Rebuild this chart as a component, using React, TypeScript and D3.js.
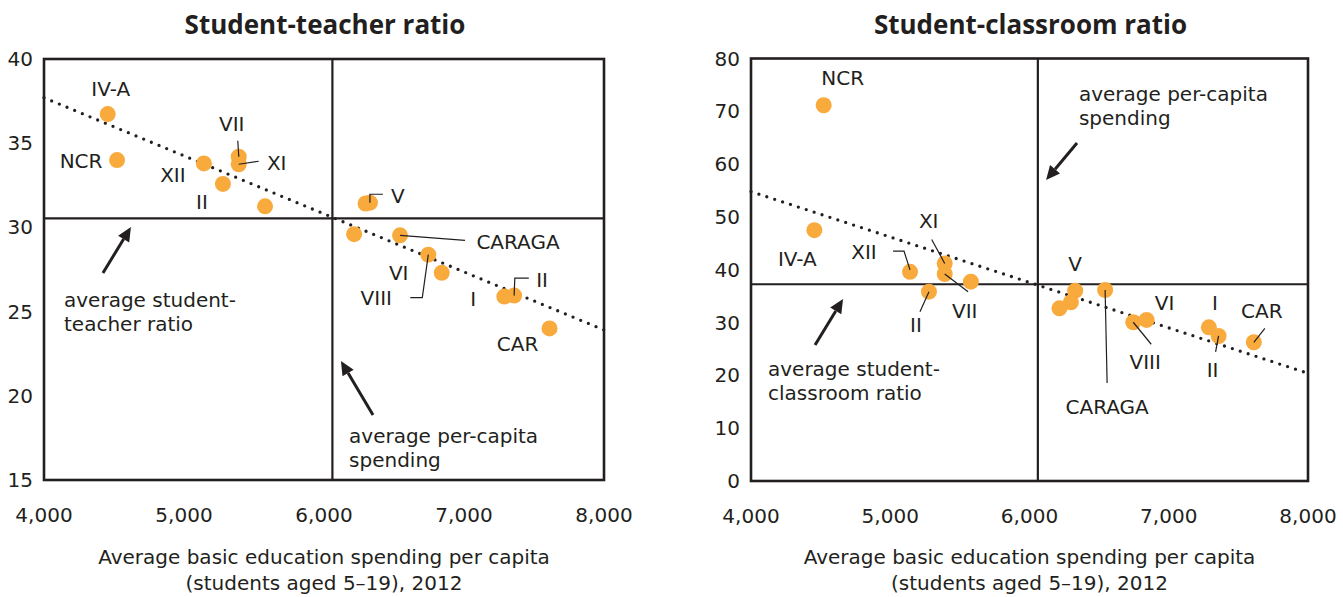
import React from "react";
import * as d3 from "d3";

// ---------- DATA ----------
const REGIONS = ["IV-A", "NCR", "XII", "VII", "XI", "II", "", "V", "", "", "CARAGA", "VIII", "VI", "I", "II", "CAR"];
const SPENDING = [4455, 4522, 5142, 5391, 5391, 5278, 5579, 6328, 6297, 6215, 6543, 6745, 6841, 7288, 7358, 7611];
const TEACHER_RATIO = [36.73, 34.0, 33.8, 34.2, 33.75, 32.58, 31.25, 31.47, 31.42, 29.6, 29.53, 28.38, 27.3, 25.89, 25.95, 24.0];
const CLASSROOM_RATIO = [47.5, 71.15, 39.6, 39.2, 41.2, 35.85, 37.75, 36.04, 33.85, 32.7, 36.17, 30.06, 30.5, 29.1, 27.46, 26.27];

const X_TICKS = [4000, 5000, 6000, 7000, 8000];
const Y_TICKS_TEACHER = [15, 20, 25, 30, 35, 40];
const Y_TICKS_CLASSROOM = [0, 10, 20, 30, 40, 50, 60, 70, 80];

const AVG_SPENDING = 6060;
const AVG_TEACHER = 30.54;
const AVG_CLASSROOM = 37.25;

const TREND_X = [4000, 8000];
const TREND_TEACHER = [37.7, 23.91];
const TREND_CLASSROOM = [54.8, 20.4];

const TITLES = ["Student-teacher ratio", "Student-classroom ratio"];
const X_TITLE = ["Average basic education spending per capita", "(students aged 5\u201319), 2012"];

// ---------- LAYOUT / STYLE ----------
const W = 1343;
const H = 597;
const INK = "#231f20";
const ORANGE = "#F9AA3C";
const FONT = "'DejaVu Sans', sans-serif";
const TITLE_FONT = "'Open Sans', sans-serif";
const FS = 20;

type LabelLayout = { dx: number; dy: number; leader?: [number, number][] };

const LEFT_LABELS: Record<number, LabelLayout> = {
  0: { dx: 3, dy: -25 },
  1: { dx: -36, dy: 1 },
  2: { dx: -31, dy: 12 },
  3: { dx: -7, dy: -33, leader: [[-1, -16], [0, 0]] },
  4: { dx: 38, dy: -1, leader: [[20, -3], [0, 0]] },
  5: { dx: -21, dy: 18 },
  7: { dx: 28, dy: -7, leader: [[13, -8.4], [0, -8.4], [0, 0]] },
  10: { dx: 118, dy: 7, leader: [[0, 0], [65, 5]] },
  11: { dx: -52, dy: 43, leader: [[0, 0], [-6, 43], [-18, 43]] },
  12: { dx: -43, dy: 0.6 },
  13: { dx: -31, dy: 2 },
  14: { dx: 28, dy: -16, leader: [[0, 0], [0.7, -17.4], [14.7, -17.4]] },
  15: { dx: -32, dy: 16 },
};

const RIGHT_LABELS: Record<number, LabelLayout> = {
  0: { dx: -17, dy: 29 },
  1: { dx: 19, dy: -27 },
  2: { dx: -46, dy: -20, leader: [[-17, -20.7], [-6, -20.7], [0, -2]] },
  3: { dx: 20, dy: 37, leader: [[0, 0], [23.4, 17.7]] },
  4: { dx: -16, dy: -42, leader: [[-13, -24], [0, 0]] },
  5: { dx: -13, dy: 33, leader: [[0, 0], [-9, 20]] },
  7: { dx: 0, dy: -27 },
  10: { dx: 2, dy: 117, leader: [[0, 0], [2, 93]] },
  11: { dx: 12, dy: 40, leader: [[0, 0], [18, 22]] },
  12: { dx: 18, dy: -17 },
  13: { dx: 6, dy: -24 },
  14: { dx: -6, dy: 34, leader: [[0, 0], [-3, 16]] },
  15: { dx: 8, dy: -31, leader: [[0, 0], [11, -14]] },
};

type Note = { x: number; y: number; lines: string[] };
type Arrow = { from: [number, number]; to: [number, number] };

interface PanelProps {
  title: string;
  xRange: [number, number];
  yRange: [number, number];
  yDomain: [number, number];
  yTicks: number[];
  values: number[];
  avgY: number;
  trend: number[];
  labels: Record<number, LabelLayout>;
  notes: Note[];
  arrows: Arrow[];
}

function Panel(p: PanelProps) {
  const x = d3.scaleLinear().domain([4000, 8000]).range(p.xRange);
  const y = d3.scaleLinear().domain(p.yDomain).range(p.yRange);
  const [x0, x1] = p.xRange;
  const [yb, yt] = p.yRange;
  const cx = (x0 + x1) / 2;
  const fmt = d3.format(",");
  const line = d3.line<[number, number]>();

  return (
    <g fontFamily={FONT} fill={INK}>
      <text x={cx + 1} y={24} textAnchor="middle" dominantBaseline="central" fontWeight={700} fontSize={26} fontFamily={TITLE_FONT}>
        {p.title}
      </text>
      {/* trend */}
      <path
        d={line(TREND_X.map((v, i) => [x(v), y(p.trend[i])]) as [number, number][]) || ""}
        fill="none"
        stroke={INK}
        strokeWidth={3.3}
        strokeLinecap="round"
        strokeDasharray="0 8.3"
      />
      {/* frame and average lines */}
      <rect x={x0} y={yt} width={x1 - x0} height={yb - yt} fill="none" stroke={INK} strokeWidth={2.6} />
      <line x1={x(AVG_SPENDING)} x2={x(AVG_SPENDING)} y1={yt} y2={yb} stroke={INK} strokeWidth={2.2} />
      <line x1={x0} x2={x1} y1={y(p.avgY)} y2={y(p.avgY)} stroke={INK} strokeWidth={2.2} />
      {/* points */}
      {SPENDING.map((s, i) => (
        <circle key={i} cx={x(s)} cy={y(p.values[i])} r={8} fill={ORANGE} />
      ))}
      {/* labels */}
      {SPENDING.map((s, i) => {
        const L = p.labels[i];
        if (!L || !REGIONS[i]) return null;
        const px = x(s);
        const py = y(p.values[i]);
        return (
          <g key={"l" + i}>
            {L.leader && (
              <path
                d={line(L.leader.map(([a, b]) => [px + a, py + b]) as [number, number][]) || ""}
                fill="none"
                stroke={INK}
                strokeWidth={1.2}
              />
            )}
            <text x={px + L.dx} y={py + L.dy} textAnchor="middle" dominantBaseline="central" fontSize={FS}>
              {REGIONS[i]}
            </text>
          </g>
        );
      })}
      {/* arrows */}
      {p.arrows.map((a, i) => {
        const fx = x(a.from[0]);
        const fy = y(a.from[1]);
        const tx = x(a.to[0]);
        const ty = y(a.to[1]);
        const ang = Math.atan2(ty - fy, tx - fx);
        const len = 14;
        const hw = 6.5;
        const bx = tx - len * Math.cos(ang);
        const by = ty - len * Math.sin(ang);
        const nx = -Math.sin(ang);
        const ny = Math.cos(ang);
        return (
          <g key={"a" + i}>
            <line x1={fx} y1={fy} x2={bx} y2={by} stroke={INK} strokeWidth={3} />
            <polygon points={`${tx},${ty} ${bx + nx * hw},${by + ny * hw} ${bx - nx * hw},${by - ny * hw}`} fill={INK} />
          </g>
        );
      })}
      {/* notes */}
      {p.notes.map((n, i) => (
        <g key={"n" + i}>
          {n.lines.map((t, j) => (
            <text key={j} x={x(n.x)} y={y(n.y) + j * 24} dominantBaseline="central" fontSize={FS}>
              {t}
            </text>
          ))}
        </g>
      ))}
      {/* axes tick labels */}
      {X_TICKS.map((t) => (
        <text key={"x" + t} x={x(t)} y={yb + 35} textAnchor="middle" dominantBaseline="central" fontSize={FS}>
          {fmt(t)}
        </text>
      ))}
      {p.yTicks.map((t) => (
        <text key={"y" + t} x={x0 - 11} y={y(t)} textAnchor="end" dominantBaseline="central" fontSize={FS}>
          {t}
        </text>
      ))}
      {/* axis title */}
      {X_TITLE.map((t, j) => (
        <text key={"t" + j} x={cx} y={557 + j * 26} textAnchor="middle" dominantBaseline="central" fontSize={FS}>
          {t}
        </text>
      ))}
    </g>
  );
}

export default function App() {
  return (
    <svg
      width={W}
      height={H}
      viewBox={`0 0 ${W} ${H}`}
      style={{ position: "absolute", left: 0, top: 0, background: "#fff" }}
    >
      <rect width={W} height={H} fill="#fff" />
      <Panel
        title={TITLES[0]}
        xRange={[44, 604]}
        yRange={[480, 59]}
        yDomain={[15, 40]}
        yTicks={Y_TICKS_TEACHER}
        values={TEACHER_RATIO}
        avgY={AVG_TEACHER}
        trend={TREND_TEACHER}
        labels={LEFT_LABELS}
        arrows={[
          { from: [4421, 27.29], to: [4621, 30.02] },
          { from: [6350, 18.86], to: [6121, 22.07] },
        ]}
        notes={[
          { x: 4143, y: 25.69, lines: ["average student-", "teacher ratio"] },
          { x: 6179, y: 17.61, lines: ["average per-capita", "spending"] },
        ]}
      />
      <Panel
        title={TITLES[1]}
        xRange={[751, 1308]}
        yRange={[481, 58.5]}
        yDomain={[0, 80]}
        yTicks={Y_TICKS_CLASSROOM}
        values={CLASSROOM_RATIO}
        avgY={AVG_CLASSROOM}
        trend={TREND_CLASSROOM}
        labels={RIGHT_LABELS}
        arrows={[
          { from: [6341, 64.0], to: [6119, 57.0] },
          { from: [4460, 25.76], to: [4661, 34.47] },
        ]}
        notes={[
          { x: 6355, y: 73.3, lines: ["average per-capita", "spending"] },
          { x: 4122, y: 21.2, lines: ["average student-", "classroom ratio"] },
        ]}
      />
    </svg>
  );
}
